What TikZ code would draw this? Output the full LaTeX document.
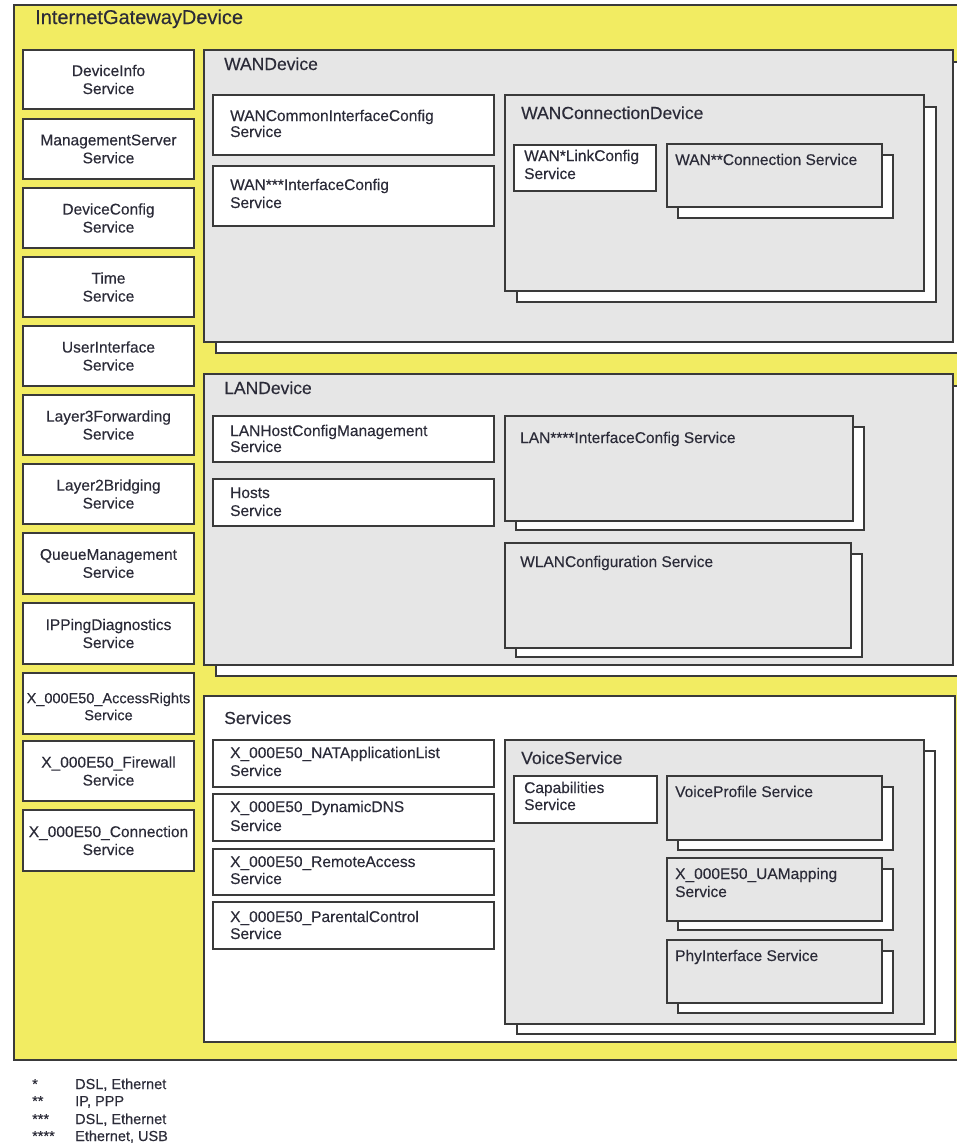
\documentclass[tikz,border=0pt]{standalone}
\usepackage{fontspec}
\setmainfont{Liberation Sans}[FakeBold=0.3]
\definecolor{ylw}{HTML}{F2EC62}
\definecolor{gry}{HTML}{E6E6E6}
\definecolor{edgec}{HTML}{3A3A3A}
\definecolor{txtc}{HTML}{2B2B38}
\newcommand\mkbox[6]{%
  \node[#1, minimum width={#5-#3}, minimum height={#6-#4}] (#2) at ({(#3+#5)/2},{(#4+#6)/2}) {};}
\begin{document}
\begin{tikzpicture}[x=1pt,y=-1pt,
  wbox/.style={draw=edgec, line width=1.4pt, fill=white, inner sep=0pt, outer sep=0pt},
  gbox/.style={draw=edgec, line width=1.4pt, fill=gry, inner sep=0pt, outer sep=0pt},
  ybox/.style={draw=edgec, line width=1.4pt, fill=ylw, inner sep=0pt, outer sep=0pt},
  svc/.style={text=txtc, font=\fontsize{15.5}{17}\selectfont, inner sep=0pt, anchor=base west},
  ctr/.style={text=txtc, font=\fontsize{15.5}{18}\selectfont, inner sep=0pt, align=center},
  hdr/.style={text=txtc, font=\fontsize{17.5}{20}\selectfont, inner sep=0pt, anchor=base west},
  leg/.style={text=txtc, font=\fontsize{14.5}{17}\selectfont, inner sep=0pt, anchor=base west}]
\useasboundingbox (0,0) rectangle (957,1146);
\clip (0,0) rectangle (957,1146);
\fill[white] (0,0) rectangle (957,1146);
% outer
\mkbox{ybox}{igd}{14}{5}{975}{1060}
\node[text=txtc, font=\fontsize{20}{22}\selectfont, inner sep=0pt, anchor=base west] (igdt) at (35,24) {InternetGatewayDevice};
% left column
\mkbox{wbox}{l1}{23}{50}{194}{109}
\node[ctr] (l1t) at (l1) {DeviceInfo\\Service};
\mkbox{wbox}{l2}{23}{119}{194}{179}
\node[ctr] (l2t) at (l2) {ManagementServer\\Service};
\mkbox{wbox}{l3}{23}{188}{194}{248}
\node[ctr] (l3t) at (l3) {DeviceConfig\\Service};
\mkbox{wbox}{l4}{23}{257}{194}{317}
\node[ctr] (l4t) at (l4) {Time\\Service};
\mkbox{wbox}{l5}{23}{326}{194}{386}
\node[ctr] (l5t) at (l5) {UserInterface\\Service};
\mkbox{wbox}{l6}{23}{395}{194}{455}
\node[ctr] (l6t) at (l6) {Layer3Forwarding\\Service};
\mkbox{wbox}{l7}{23}{464}{194}{524}
\node[ctr] (l7t) at (l7) {Layer2Bridging\\Service};
\mkbox{wbox}{l8}{23}{533}{194}{594}
\node[ctr] (l8t) at (l8) {QueueManagement\\Service};
\mkbox{wbox}{l9}{23}{603}{194}{664}
\node[ctr] (l9t) at (l9) {IPPingDiagnostics\\Service};
\mkbox{wbox}{l10}{23}{673}{194}{734}
\node[ctr, font=\fontsize{14.5}{17}\selectfont] (l10t) at ([yshift=-3pt]l10.center) {X\_000E50\_AccessRights\\Service};
\mkbox{wbox}{l11}{23}{741}{194}{801}
\node[ctr] (l11t) at (l11) {X\_000E50\_Firewall\\Service};
\mkbox{wbox}{l12}{23}{810}{194}{871}
\node[ctr] (l12t) at (l12) {X\_000E50\_Connection\\Service};
% WANDevice
\mkbox{wbox}{wans}{216}{62}{975}{353}
\mkbox{gbox}{wan}{204}{50}{953}{342}
\node[hdr] (want) at (224,70) {WANDevice};
\mkbox{wbox}{wci}{213}{95}{494}{155}
\node[svc] (wcit) at (230,121) {WANCommonInterfaceConfig};
\node[svc] (wcit2) at (230,137) {Service};
\mkbox{wbox}{wic}{213}{166}{494}{226}
\node[svc] (wict) at (230,190) {WAN***InterfaceConfig};
\node[svc] (wict2) at (230,208) {Service};
\mkbox{wbox}{wcds}{517}{107}{936}{302}
\mkbox{gbox}{wcd}{505}{95}{924}{291}
\node[hdr] (wcdt) at (521,119) {WANConnectionDevice};
\mkbox{wbox}{wlc}{514}{145}{656}{191}
\node[svc] (wlct) at (524,161) {WAN*LinkConfig};
\node[svc] (wlct2) at (524,179) {Service};
\mkbox{wbox}{wcss}{678}{155}{893}{218}
\mkbox{gbox}{wcs}{667}{144}{882}{207}
\node[svc] (wcst) at (675,165) {WAN**Connection Service};
% LANDevice
\mkbox{wbox}{lans}{216}{386}{975}{676}
\mkbox{gbox}{lan}{204}{374}{953}{665}
\node[hdr] (lant) at (224,394) {LANDevice};
\mkbox{wbox}{lhc}{213}{416}{494}{462}
\node[svc] (lhct) at (230,436) {LANHostConfigManagement};
\node[svc] (lhct2) at (230,452) {Service};
\mkbox{wbox}{hst}{213}{479}{494}{526}
\node[svc] (hstt) at (230,498) {Hosts};
\node[svc] (hstt2) at (230,516) {Service};
\mkbox{wbox}{lics}{516}{427}{864}{530}
\mkbox{gbox}{lic}{505}{416}{853}{521}
\node[svc] (lict) at (520,443) {LAN****InterfaceConfig Service};
\mkbox{wbox}{wlcs}{516}{554}{862}{657}
\mkbox{gbox}{wlcf}{505}{543}{851}{648}
\node[svc] (wlcft) at (520,567) {WLANConfiguration Service};
% Services
\mkbox{wbox}{srv}{204}{696}{955}{1042}
\node[hdr] (srvt) at (224,724) {Services};
\mkbox{wbox}{nat}{213}{740}{494}{787}
\node[svc] (natt) at (230,758) {X\_000E50\_NATApplicationList};
\node[svc] (natt2) at (230,776) {Service};
\mkbox{wbox}{dns}{213}{794}{494}{841}
\node[svc] (dnst) at (230,812) {X\_000E50\_DynamicDNS};
\node[svc] (dnst2) at (230,831) {Service};
\mkbox{wbox}{ra}{213}{849}{494}{895}
\node[svc] (rat) at (230,867) {X\_000E50\_RemoteAccess};
\node[svc] (rat2) at (230,884) {Service};
\mkbox{wbox}{pc}{213}{902}{494}{949}
\node[svc] (pct) at (230,922) {X\_000E50\_ParentalControl};
\node[svc] (pct2) at (230,939) {Service};
\mkbox{wbox}{vss}{517}{751}{935}{1034}
\mkbox{gbox}{vs}{505}{740}{924}{1024}
\node[hdr] (vst) at (521,764) {VoiceService};
\mkbox{wbox}{cap}{514}{776}{657}{823}
\node[svc] (capt) at (524,793) {Capabilities};
\node[svc] (capt2) at (524,810) {Service};
\mkbox{wbox}{vps}{678}{787}{893}{850}
\mkbox{gbox}{vp}{667}{776}{882}{840}
\node[svc] (vpt) at (675,797) {VoiceProfile Service};
\mkbox{wbox}{uams}{678}{869}{893}{930}
\mkbox{gbox}{uam}{667}{858}{882}{921}
\node[svc] (uamt) at (675,879) {X\_000E50\_UAMapping};
\node[svc] (uamt2) at (675,897) {Service};
\mkbox{wbox}{phys}{678}{951}{893}{1013}
\mkbox{gbox}{phy}{667}{940}{882}{1003}
\node[svc] (phyt) at (675,961) {PhyInterface Service};
% legend
\node[leg] (s1) at (32,1089) {*};
\node[leg] (d1) at (75,1089) {DSL, Ethernet};
\node[leg] (s2) at (32,1106) {**};
\node[leg] (d2) at (75,1106) {IP, PPP};
\node[leg] (s3) at (32,1124) {***};
\node[leg] (d3) at (75,1124) {DSL, Ethernet};
\node[leg] (s4) at (32,1141) {****};
\node[leg] (d4) at (75,1141) {Ethernet, USB};
\end{tikzpicture}
\end{document}
